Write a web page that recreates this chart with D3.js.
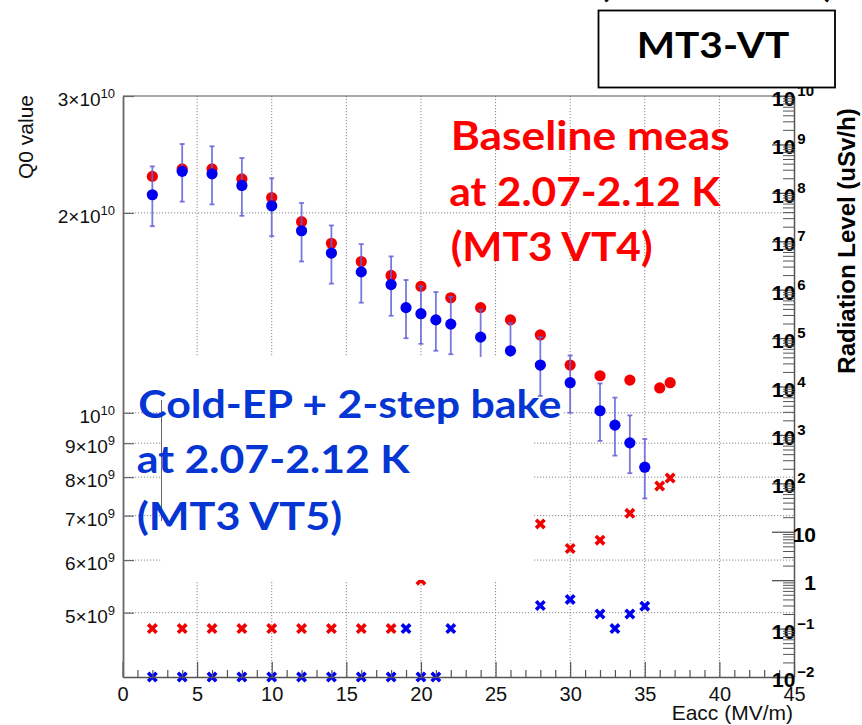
<!DOCTYPE html>
<html>
<head>
<meta charset="utf-8">
<script src="https://cdn.jsdelivr.net/npm/d3@7"></script>
<style>
body{margin:0;background:#fff;}
svg{display:block;}
</style>
</head>
<body>
<div id="chart"></div>
<script>
// Q0 vs Eacc : baseline (VT4, red) and cold-EP + 2-step bake (VT5, blue)
const eaccVT4 = [2,4,6,8,10,12,14,16,18,20,22,24,26,28,30,32,34,36,36.7];
const q0VT4 = [2.27e10,2.33e10,2.33e10,2.25e10,2.11e10,1.94e10,1.80e10,1.69e10,1.61e10,1.55e10,1.49e10,1.44e10,1.38e10,1.31e10,1.18e10,1.137e10,1.12e10,1.09e10,1.11e10];

const eaccVT5 = [2,4,6,8,10,12,14,16,18,19,20,21,22,24,26,28,30,32,33,34,35];
const q0VT5 = [2.13e10,2.31e10,2.29e10,2.20e10,2.05e10,1.88e10,1.74e10,1.63e10,1.56e10,1.44e10,1.41e10,1.38e10,1.36e10,1.30e10,1.24e10,1.18e10,1.11e10,1.007e10,9.58e9,9.01e9,8.28e9];
const q0ErrVT5 = [2.2e9,2.3e9,2.3e9,2.2e9,2.05e9,1.9e9,1.75e9,1.65e9,1.6e9,1.45e9,1.4e9,1.4e9,1.35e9,1.3e9,1.25e9,1.2e9,1.1e9,1.0e9,9.6e8,9.0e8,8.5e8];

// radiation level (uSv/h), right axis
const eaccRadVT4 = [2,4,6,8,10,12,14,16,18,20,28,30,32,34,36,36.7];
const radVT4 = [0.1,0.1,0.1,0.1,0.1,0.1,0.1,0.1,0.1,1,14.5,4.5,6.7,24,88,129];
const eaccRadVT5 = [2,4,6,8,10,12,14,16,18,19,20,21,22,28,30,32,33,34,35];
const radVT5 = [0.01,0.01,0.01,0.01,0.01,0.01,0.01,0.01,0.01,0.1,0.01,0.01,0.1,0.30,0.40,0.20,0.10,0.20,0.29];

// ticks
const xTicks = [0,5,10,15,20,25,30,35,40,45];
const q0Ticks = [5e9,6e9,7e9,8e9,9e9,1e10,2e10,3e10];
const q0TickLabels = [['5×10','9'],['6×10','9'],['7×10','9'],['8×10','9'],['9×10','9'],['10','10'],['2×10','10'],['3×10','10']];
const radTicks = [1e-2,1e-1,1,10,1e2,1e3,1e4,1e5,1e6,1e7,1e8,1e9,1e10];
const radTickLabels = [['10','−2'],['10','−1'],['1',''],['10',''],['10','2'],['10','3'],['10','4'],['10','5'],['10','6'],['10','7'],['10','8'],['10','9'],['10','10']];

const W = 862, H = 725;
const svg = d3.select('#chart').append('svg').attr('width',W).attr('height',H);

const x = d3.scaleLinear().domain([0,45]).range([122.5,794]);
const yQ = d3.scaleLog().domain([4e9,3e10]).range([677,96]);
const yR = d3.scaleLog().domain([1e-2,1e10]).range([677,96]);
const axisFont = 'Liberation Sans, Arial, Helvetica, sans-serif';
const boxFont = 'Lato, Open Sans, sans-serif';

// grille pointillee
svg.append('g').selectAll('line').data(xTicks.filter(d => d>0 && d<45)).join('line')
	.attr('x1',d=>x(d)).attr('x2',d=>x(d)).attr('y1',96).attr('y2',677)
	.attr('stroke','#8a8a8a').attr('stroke-width',1).attr('stroke-dasharray','1.2,1.8');
svg.append('g').selectAll('line').data(q0Ticks.filter(d => d<3e10)).join('line')
	.attr('x1',123).attr('x2',794).attr('y1',d=>yQ(d)).attr('y2',d=>yQ(d))
	.attr('stroke','#8a8a8a').attr('stroke-width',1).attr('stroke-dasharray','1.2,1.8');

// cadre haut
svg.append('line').attr('x1',123).attr('x2',794).attr('y1',96).attr('y2',96)
	.attr('stroke','#555').attr('stroke-width',1.2);

// points Q0
svg.append('g').selectAll('circle').data(eaccVT4).join('circle')
	.attr('cx',d=>x(d)).attr('cy',(d,i)=>yQ(q0VT4[i])).attr('r',5.6).attr('fill','#f20000');

let err = svg.append('g').attr('stroke','#6262d8').attr('stroke-width',1.8).attr('stroke-opacity',0.85);
eaccVT5.forEach((d,i) => {
	let y1 = yQ(q0VT5[i]-q0ErrVT5[i]), y2 = yQ(q0VT5[i]+q0ErrVT5[i]);
	err.append('line').attr('x1',x(d)).attr('x2',x(d)).attr('y1',y1).attr('y2',y2);
	err.append('line').attr('x1',x(d)-2.5).attr('x2',x(d)+2.5).attr('y1',y1).attr('y2',y1);
	err.append('line').attr('x1',x(d)-2.5).attr('x2',x(d)+2.5).attr('y1',y2).attr('y2',y2);
});

svg.append('g').selectAll('circle').data(eaccVT5).join('circle')
	.attr('cx',d=>x(d)).attr('cy',(d,i)=>yQ(q0VT5[i])).attr('r',5.6).attr('fill','#0000f0');

// croix radiation
const xMark = r => 'M'+(-r)+','+(-r)+'L'+r+','+r+'M'+(-r)+','+r+'L'+r+','+(-r);
svg.append('g').selectAll('path').data(eaccRadVT4).join('path')
	.attr('transform',(d,i)=>'translate('+x(d)+','+yR(radVT4[i])+')')
	.attr('d',xMark(4.2)).attr('stroke','#f00000').attr('stroke-width',3.6).attr('fill','none');
svg.append('g').selectAll('path').data(eaccRadVT5).join('path')
	.attr('transform',(d,i)=>'translate('+x(d)+','+yR(radVT5[i])+')')
	.attr('d',xMark(4.2)).attr('stroke','#0000f0').attr('stroke-width',3.6).attr('fill','none');

// boite blanche sous le texte bleu
svg.append('rect').attr('x',162).attr('y',357).attr('width',372).attr('height',223).attr('fill','#fff');
svg.append('rect').attr('x',534).attr('y',404).attr('width',28).attr('height',16).attr('fill','#fff');
svg.append('line').attr('x1',161.5).attr('x2',161.5).attr('y1',400).attr('y2',521)
	.attr('stroke','#666').attr('stroke-width',1);

// axe x
let gx = svg.append('g').attr('transform','translate(0,677)')
	.call(d3.axisBottom(x).tickValues(xTicks).tickSizeInner(-15).tickSizeOuter(0).tickPadding(10));
gx.attr('font-family',axisFont).attr('font-size',20);
gx.select('.domain').attr('stroke','#555').attr('stroke-width',1.5);
gx.selectAll('.tick line').attr('stroke','#555').attr('stroke-width',1.2);
gx.selectAll('.tick text').attr('fill','#111');
let gxm = svg.append('g').attr('transform','translate(0,677)')
	.call(d3.axisBottom(x).tickValues(x.ticks(45).filter(d => d%5)).tickSizeInner(-7).tickSizeOuter(0).tickFormat(''));
gxm.select('.domain').remove();
gxm.selectAll('.tick line').attr('stroke','#555').attr('stroke-width',1.2);

// axe Q0 (gauche)
let gy = svg.append('g').attr('transform','translate(123,0)')
	.call(d3.axisLeft(yQ).tickValues(q0Ticks).tickSizeInner(-11).tickSizeOuter(0).tickPadding(8).tickFormat(''));
gy.attr('font-family',axisFont).attr('font-size',19);
gy.select('.domain').attr('stroke','#666').attr('stroke-width',1.8);
gy.selectAll('.tick line').attr('stroke','#666').attr('stroke-width',1.2);
gy.selectAll('.tick text').each(function(d,i){
	let t = d3.select(this).attr('dy',null).attr('y',9.5).attr('x',-8).attr('fill','#111').text('');
	t.append('tspan').text(q0TickLabels[i][0]);
	t.append('tspan').attr('dy',-8).attr('font-size',13).text(q0TickLabels[i][1]);
});

// axe radiation (droite)
let gr = svg.append('g').attr('transform','translate(794,0)')
	.call(d3.axisRight(yR).tickValues(radTicks).tickSizeInner(-22).tickSizeOuter(0).tickFormat(''));
gr.attr('font-family',axisFont).attr('font-size',21).attr('font-weight','bold');
gr.select('.domain').attr('stroke','#555').attr('stroke-width',1.5);
gr.selectAll('.tick line').attr('stroke','#555').attr('stroke-width',1.3);
gr.selectAll('.tick text').each(function(d,i){
	let lab = radTickLabels[i];
	let t = d3.select(this).attr('dy',null).attr('y',9.5).attr('fill','#000').text('');
	if(lab[1]){
		t.attr('text-anchor','start').attr('x',-22);
		t.append('tspan').text(lab[0]);
		t.append('tspan').attr('dx',2).attr('dy',-10).attr('font-size',15).text(lab[1]);
	} else {
		t.attr('text-anchor','end').attr('x',22).text(lab[0]);
	}
});
let grm = svg.append('g').attr('transform','translate(794,0)')
	.call(d3.axisRight(yR).tickValues(yR.ticks(120).filter(d => Math.abs(Math.log10(d)-Math.round(Math.log10(d)))>1e-6))
		.tickSizeInner(-11).tickSizeOuter(0).tickFormat(''));
grm.select('.domain').remove();
grm.selectAll('.tick line').attr('stroke','#555').attr('stroke-width',1);

// titres des axes
svg.append('text').attr('transform','translate(33,137) rotate(-90)')
	.attr('text-anchor','middle').attr('font-family',axisFont).attr('font-size',21).attr('fill','#111')
	.text('Q0 value');
svg.append('text').attr('x',793).attr('y',720)
	.attr('text-anchor','end').attr('font-family',axisFont).attr('font-size',21).attr('fill','#111')
	.text('Eacc (MV/m)');
svg.append('text').attr('transform','translate(855,241) rotate(-90)')
	.attr('text-anchor','middle').attr('font-family',axisFont).attr('font-size',24).attr('font-weight','bold').attr('fill','#000')
	.text('Radiation Level (uSv/h)');

// textes rouge et bleu
const redLines = ['Baseline meas','at 2.07-2.12 K','(MT3 VT4)'];
const redPos = [[450.7,150,279],[449.3,206,271],[450.7,261,202]];
svg.append('g').selectAll('text').data(redLines).join('text')
	.attr('x',(d,i)=>redPos[i][0]).attr('y',(d,i)=>redPos[i][1])
	.attr('textLength',(d,i)=>redPos[i][2]).attr('lengthAdjust','spacingAndGlyphs')
	.attr('font-family',boxFont).attr('font-weight','bold').attr('font-size',40).attr('fill','#ff0000')
	.text(d=>d);

const blueLines = ['Cold-EP + 2-step bake','at 2.07-2.12 K','(MT3 VT5)'];
const bluePos = [[138.3,418.3,423],[136.7,473.3,273],[137,530,205]];
svg.append('g').selectAll('text').data(blueLines).join('text')
	.attr('x',(d,i)=>bluePos[i][0]).attr('y',(d,i)=>bluePos[i][1])
	.attr('textLength',(d,i)=>bluePos[i][2]).attr('lengthAdjust','spacingAndGlyphs')
	.attr('font-family',boxFont).attr('font-weight','bold').attr('font-size',39).attr('fill','#0535d2')
	.text(d=>d);

// boite MT3-VT
svg.append('rect').attr('x',598.5).attr('y',10.5).attr('width',236.5).attr('height',77)
	.attr('fill','#fff').attr('stroke','#000').attr('stroke-width',1.8);
svg.append('text').attr('x',636.7).attr('y',58.3).attr('textLength',152.6).attr('lengthAdjust','spacingAndGlyphs')
	.attr('font-family',boxFont).attr('font-weight','bold').attr('font-size',37).attr('fill','#000')
	.text('MT3-VT');
svg.append('text').attr('x',600).attr('y',-3).attr('font-family',boxFont).attr('font-weight','bold')
	.attr('font-size',34).text('(');
svg.append('text').attr('x',824).attr('y',-3).attr('font-family',boxFont).attr('font-weight','bold')
	.attr('font-size',34).text(')');
</script>
</body>
</html>
